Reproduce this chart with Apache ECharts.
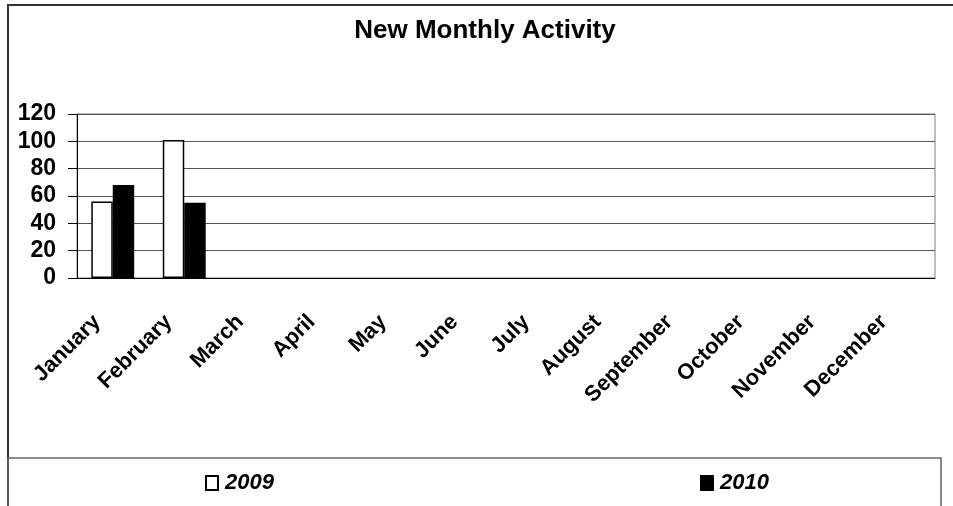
<!DOCTYPE html>
<html>
<head>
<meta charset="utf-8">
<title>New Monthly Activity</title>
<script src="https://cdn.jsdelivr.net/npm/echarts@6/dist/echarts.min.js"></script>
<style>
    html, body { margin: 0; padding: 0; background: #fff; }
    #chart { width: 953px; height: 506px; }
</style>
</head>
<body>
<div id="chart"></div>
<script>
    // data
    var months = ['January', 'February', 'March', 'April', 'May', 'June',
        'July', 'August', 'September', 'October', 'November', 'December'];
    var values2009 = [56, 101, null, null, null, null, null, null, null, null, null, null];
    var values2010 = [68, 55, null, null, null, null, null, null, null, null, null, null];
    var yTicks = [0, 20, 40, 60, 80, 100, 120];

    var font = 'Liberation Sans, Arial, sans-serif';
    var legendText = {
        fontFamily: font, fontSize: 22, fontWeight: 'bold', fontStyle: 'italic',
        color: '#000', padding: [0, 0, 0, 2]
    };
    var myChart = echarts.init(document.getElementById('chart'));
    myChart.setOption({
        animation: false,
        title: {
            text: 'New Monthly Activity',
            left: 480,
            textAlign: 'center',
            top: 13,
            textStyle: {fontFamily: font, fontSize: 26, fontWeight: 'bold', color: '#000'}
        },
        legend: [
            {data: ['2009'], left: 205, top: 472, padding: 0, itemWidth: 12, itemHeight: 14, icon: 'rect', textStyle: legendText},
            {data: ['2010'], left: 700, top: 472, padding: 0, itemWidth: 12, itemHeight: 14, icon: 'rect', textStyle: legendText}
        ],
        grid: {
            left: 77,
            right: 18,
            top: 114,
            bottom: 228,
            show: true,
            borderColor: '#808080',
            borderWidth: 1
        },
        xAxis: {
            type: 'category',
            data: months,
            axisLine: {lineStyle: {color: '#000', width: 1}},
            axisTick: {length: 8, lineStyle: {color: '#000'}},
            axisLabel: {
                interval: 0,
                rotate: 45,
                margin: 25,
                padding: [0, 22, 0, 0],
                fontFamily: font,
                fontSize: 22,
                fontWeight: 'bold',
                color: '#000'
            }
        },
        yAxis: {
            type: 'value',
            min: yTicks[0],
            max: yTicks[yTicks.length - 1],
            interval: 20,
            axisLine: {show: true, lineStyle: {color: '#000', width: 1}},
            axisTick: {show: true, length: 9, lineStyle: {color: '#000'}},
            splitLine: {lineStyle: {color: '#555', width: 1}},
            axisLabel: {
                margin: 21,
                fontFamily: font,
                fontSize: 23,
                fontWeight: 'bold',
                color: '#000'
            }
        },
        series: [
            {
                name: '2009',
                type: 'bar',
                data: values2009,
                barGap: '0%',
                barCategoryGap: '40%',
                itemStyle: {color: '#fff', borderColor: '#000', borderWidth: 1.5}
            },
            {
                name: '2010',
                type: 'bar',
                data: values2010,
                barGap: '0%',
                barCategoryGap: '40%',
                itemStyle: {color: '#000', borderColor: '#000', borderWidth: 1.5}
            }
        ],
        graphic: [
            {
                type: 'rect',
                shape: {x: 8, y: 5, width: 960, height: 520},
                style: {fill: 'none', stroke: '#333', lineWidth: 2},
                silent: true
            },
            {
                type: 'rect',
                shape: {x: 8, y: 458, width: 933, height: 60},
                style: {fill: 'none', stroke: '#666', lineWidth: 1.5},
                silent: true
            }
        ]
    });
</script>
</body>
</html>
